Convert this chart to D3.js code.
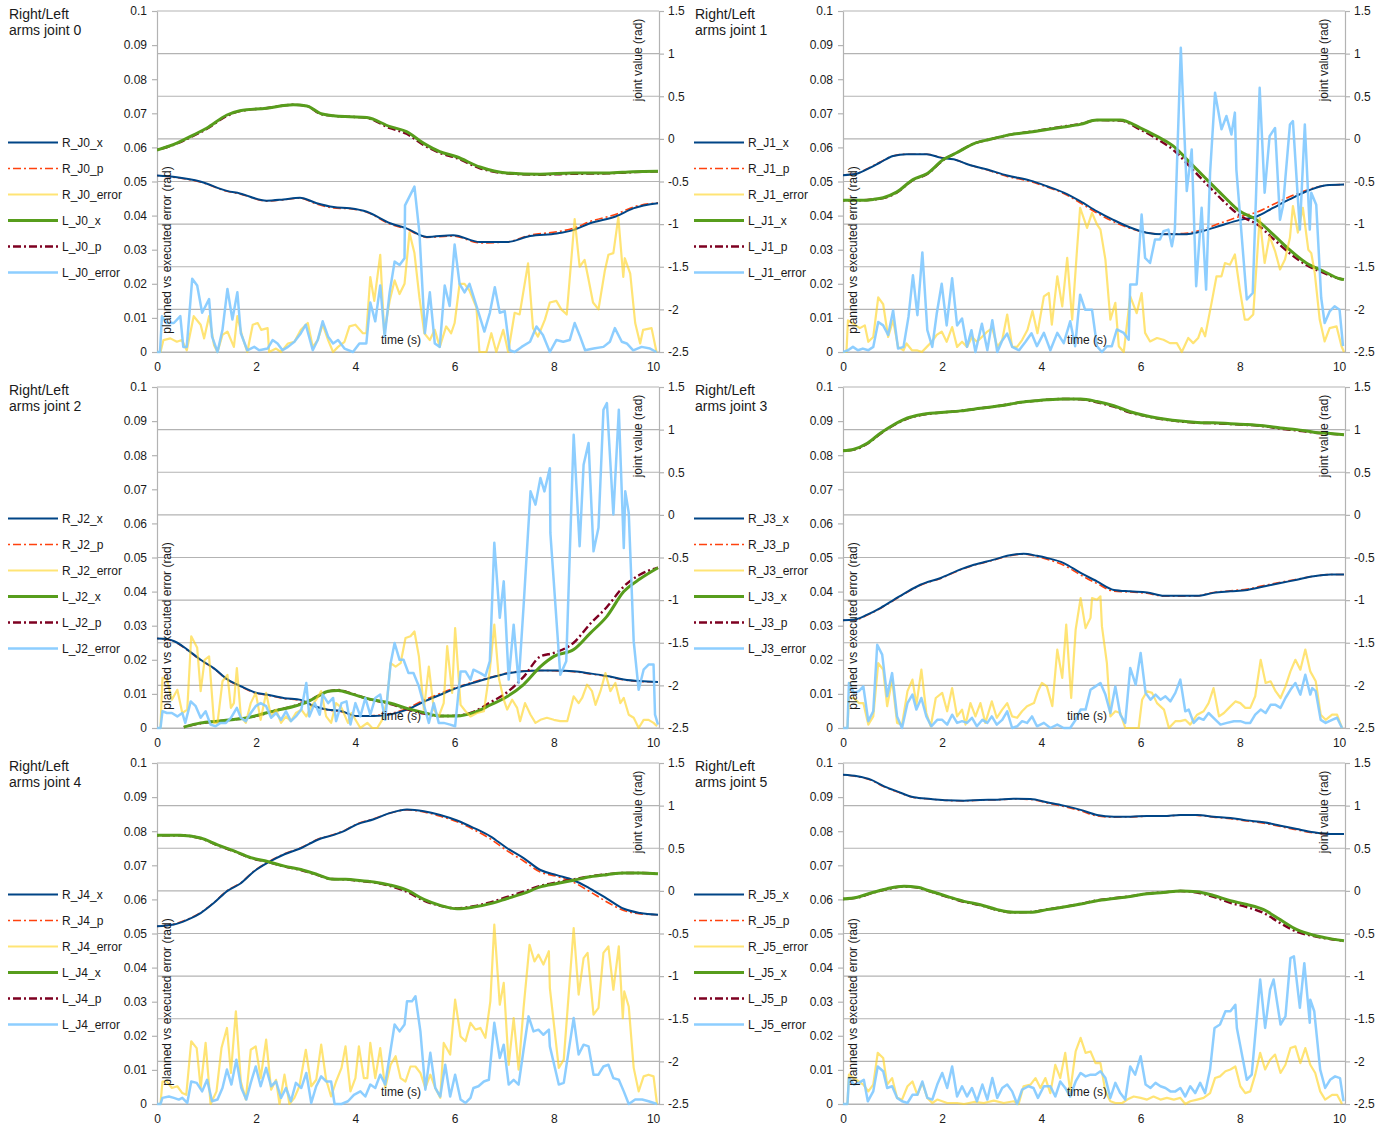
<!DOCTYPE html>
<html><head><meta charset="utf-8">
<script src="https://cdn.jsdelivr.net/npm/d3@7"></script>
<style>
body{margin:0;background:#fff}
text{font-family:"Liberation Sans",Arial,sans-serif;fill:#1a1a1a}
</style></head>
<body><svg id="c" width="1390" height="1125"></svg>
<script>
// ---------- axis ticks ----------
const errorTicks = [0,0.01,0.02,0.03,0.04,0.05,0.06,0.07,0.08,0.09,0.1];
const jointTicks = [1.5,1,0.5,0,-0.5,-1,-1.5,-2,-2.5];
const timeTicks = [0,2,4,6,8,10];

// ---------- joint 0 ----------
const R_J0_x = [[0,-0.43],[0.4,-0.45],[0.87,-0.50],[1.41,-0.61],[1.67,-0.64],[2.21,-0.725],[2.55,-0.71],[2.88,-0.69],[3.22,-0.755],[3.56,-0.80],[3.89,-0.815],[4.23,-0.855],[4.7,-0.99],[5.03,-1.05],[5.44,-1.15],[5.97,-1.13],[6.51,-1.21],[7.05,-1.21],[7.52,-1.14],[8.06,-1.11],[8.39,-1.07],[8.73,-0.99],[9.27,-0.905],[9.6,-0.815],[10.1,-0.755]];
const R_J0_p = [[0,-0.43],[0.4,-0.455],[0.87,-0.505],[1.41,-0.615],[1.67,-0.645],[2.21,-0.73],[2.55,-0.715],[2.88,-0.695],[3.22,-0.765],[3.56,-0.81],[3.89,-0.82],[4.23,-0.86],[4.7,-1.0],[5.03,-1.06],[5.44,-1.155],[5.97,-1.14],[6.51,-1.22],[7.05,-1.21],[7.52,-1.13],[8.06,-1.09],[8.39,-1.05],[8.73,-0.97],[9.27,-0.88],[9.6,-0.80],[10.1,-0.75]];
const R_J0_error = [[0,0],[0.07,0],[0.13,0.0035],[0.27,0.004],[0.4,0.003],[0.5,0.0035],[0.6,0.0005],[0.74,0.0105],[0.88,0.008],[0.95,0.004],[1.05,0.0105],[1.15,0.002],[1.22,0],[1.32,0.005],[1.42,0.006],[1.55,0.0015],[1.62,0.0105],[1.72,0.0045],[1.82,0],[1.93,0.008],[2.03,0.0085],[2.1,0.0065],[2.23,0.007],[2.26,0],[2.4,0.001],[2.5,0],[2.64,0.0025],[2.77,0.003],[2.9,0.0065],[3.04,0.0085],[3.14,0.0015],[3.24,0.0035],[3.34,0.008],[3.45,0.0035],[3.55,0],[3.65,0.0015],[3.78,0.003],[3.88,0.0075],[4.0,0.008],[4.15,0.0055],[4.22,0.0055],[4.3,0.022],[4.38,0.015],[4.5,0.0285],[4.58,0.0055],[4.69,0.015],[4.79,0.021],[4.89,0.017],[4.99,0.02],[5.09,0.035],[5.19,0.029],[5.29,0.016],[5.39,0.0055],[5.5,0.0035],[5.6,0.0065],[5.7,0.0015],[5.83,0.0075],[5.93,0.0055],[6.0,0.0085],[6.1,0.02],[6.2,0.02],[6.3,0.018],[6.44,0.013],[6.5,0],[6.64,0],[6.74,0.0055],[6.84,0],[6.98,0.0065],[7.08,0],[7.21,0.0115],[7.31,0.011],[7.48,0.026],[7.58,0.007],[7.68,0.0045],[7.82,0.0095],[7.92,0.0145],[8.05,0.015],[8.15,0.0125],[8.26,0.011],[8.42,0.039],[8.52,0.025],[8.62,0.027],[8.69,0.022],[8.79,0.0145],[8.9,0.0125],[9.03,0.024],[9.1,0.0285],[9.2,0.029],[9.3,0.0395],[9.4,0.022],[9.43,0.0275],[9.54,0.023],[9.64,0.0085],[9.74,0.0025],[9.8,0.0065],[9.97,0.007],[10.07,0]];
const L_J0_x = [[0,-0.13],[0.4,-0.05],[0.73,0.045],[1.0,0.124],[1.41,0.28],[1.67,0.33],[2.2,0.36],[2.75,0.40],[3.02,0.386],[3.29,0.30],[3.56,0.272],[3.89,0.26],[4.23,0.25],[4.7,0.143],[5.03,0.085],[5.37,-0.05],[5.7,-0.15],[6.04,-0.21],[6.51,-0.33],[7.05,-0.40],[7.72,-0.415],[8.39,-0.40],[9.07,-0.40],[9.6,-0.385],[10.1,-0.38]];
const L_J0_p = [[0,-0.13],[0.4,-0.055],[0.73,0.035],[1.0,0.115],[1.41,0.27],[1.67,0.325],[2.2,0.36],[2.75,0.40],[3.02,0.385],[3.29,0.295],[3.56,0.27],[3.89,0.26],[4.23,0.245],[4.7,0.125],[5.03,0.06],[5.37,-0.07],[5.7,-0.165],[6.04,-0.225],[6.51,-0.345],[7.05,-0.405],[7.72,-0.42],[8.39,-0.41],[9.07,-0.405],[9.6,-0.39],[10.1,-0.38]];
const L_J0_error = [[0,0],[0.06,0],[0.1,0.0105],[0.2,0.0085],[0.34,0.0085],[0.47,0.0105],[0.53,0.0015],[0.6,0.0015],[0.71,0.0215],[0.81,0.0195],[0.91,0.0115],[1.05,0.0155],[1.11,0.0045],[1.22,0],[1.32,0.0065],[1.42,0.0185],[1.52,0.0095],[1.62,0.0175],[1.69,0.0055],[1.82,0.0005],[1.96,0.0015],[2.06,0.0005],[2.23,0.001],[2.33,0.0035],[2.43,0.0025],[2.53,0.0005],[2.64,0.0015],[2.77,0.003],[2.9,0.0055],[3.0,0.008],[3.14,0.0005],[3.24,0.0035],[3.34,0.009],[3.45,0.0045],[3.55,0.0025],[3.65,0.0035],[3.78,0.001],[3.95,0],[4.08,0.0025],[4.22,0.0025],[4.3,0.0145],[4.4,0.009],[4.5,0.0195],[4.59,0.0045],[4.69,0.0175],[4.79,0.0265],[4.89,0.0255],[4.99,0.0275],[5.0,0.043],[5.19,0.0485],[5.29,0.035],[5.4,0.0055],[5.5,0.0175],[5.6,0.0025],[5.7,0.0015],[5.8,0.0195],[5.9,0.0135],[6.0,0.0315],[6.1,0.02],[6.2,0.0175],[6.3,0.02],[6.44,0.0135],[6.6,0.006],[6.71,0.0115],[6.81,0.019],[6.91,0.0115],[7.01,0.012],[7.11,0.0005],[7.21,0],[7.35,0.0015],[7.52,0.003],[7.65,0.0075],[7.78,0.005],[7.92,0],[8.05,0.0035],[8.19,0.003],[8.32,0.0035],[8.42,0.0085],[8.53,0.0045],[8.63,0.0005],[8.8,0.001],[9.0,0.0015],[9.13,0.003],[9.23,0.007],[9.37,0.003],[9.47,0.0025],[9.6,0.0005],[9.77,0.0015],[9.94,0.001],[10.07,0]];

// ---------- joint 1 ----------
const R_J1_x = [[0,-0.426],[0.27,-0.41],[0.54,-0.34],[0.74,-0.28],[1.01,-0.20],[1.28,-0.18],[1.69,-0.18],[1.96,-0.22],[2.23,-0.24],[2.57,-0.31],[2.91,-0.36],[3.31,-0.43],[3.78,-0.49],[4.11,-0.555],[4.45,-0.63],[4.78,-0.73],[5.12,-0.85],[5.45,-0.95],[5.79,-1.04],[6.12,-1.10],[6.46,-1.12],[6.86,-1.12],[7.26,-1.08],[7.6,-1.02],[8.0,-0.95],[8.34,-0.91],[8.67,-0.81],[9.0,-0.71],[9.41,-0.60],[9.74,-0.545],[10.1,-0.535]];
const R_J1_p = [[0,-0.426],[0.27,-0.405],[0.54,-0.335],[0.74,-0.275],[1.01,-0.20],[1.28,-0.18],[1.69,-0.18],[1.96,-0.215],[2.23,-0.24],[2.57,-0.31],[2.91,-0.365],[3.31,-0.44],[3.78,-0.50],[4.11,-0.565],[4.45,-0.64],[4.78,-0.75],[5.12,-0.87],[5.45,-0.97],[5.79,-1.05],[6.12,-1.10],[6.46,-1.115],[6.86,-1.11],[7.26,-1.06],[7.6,-0.99],[8.0,-0.91],[8.34,-0.86],[8.67,-0.77],[9.0,-0.68],[9.41,-0.59],[9.74,-0.545],[10.1,-0.535]];
const R_J1_error = [[0,0],[0.07,0],[0.1,0.0093],[0.2,0.0083],[0.34,0.007],[0.44,0.0078],[0.51,0.003],[0.61,0.0044],[0.71,0.016],[0.81,0.014],[0.91,0.0044],[1.01,0.0093],[1.11,0.0015],[1.22,0.0005],[1.28,0.0025],[1.39,0.0005],[1.49,0.0005],[1.59,0],[1.69,0.0015],[1.79,0.003],[1.89,0.005],[1.99,0.006],[2.09,0.003],[2.2,0.0073],[2.3,0.0015],[2.4,0.003],[2.5,0.0015],[2.6,0.0044],[2.7,0.003],[2.8,0.0044],[2.91,0.006],[3.01,0.007],[3.11,0.0015],[3.21,0.0035],[3.31,0.011],[3.41,0.0015],[3.51,0.0015],[3.61,0.0035],[3.72,0.0065],[3.82,0.012],[3.92,0.0055],[4.05,0.0163],[4.15,0.0173],[4.21,0.008],[4.32,0.0222],[4.42,0.0134],[4.52,0.0276],[4.62,0.0095],[4.72,0.0305],[4.78,0.0423],[4.92,0.0364],[5.02,0.0408],[5.12,0.0374],[5.19,0.0359],[5.29,0.0271],[5.39,0.0095],[5.49,0.0144],[5.56,0.0017],[5.66,0],[5.79,0.0163],[5.92,0.0114],[6.02,0.0173],[6.09,0.0056],[6.19,0.0031],[6.33,0.0041],[6.46,0.0036],[6.59,0.0026],[6.73,0.0026],[6.83,0],[6.96,0.0041],[7.06,0.0026],[7.16,0.0041],[7.23,0.007],[7.3,0.0046],[7.43,0.0144],[7.53,0.0222],[7.63,0.0222],[7.7,0.0261],[7.8,0.0256],[7.9,0.0286],[8.0,0.0183],[8.1,0.0095],[8.17,0.0095],[8.27,0.011],[8.4,0.0393],[8.5,0.0261],[8.6,0.034],[8.71,0.0296],[8.81,0.0242],[8.91,0.0271],[9.01,0.0335],[9.07,0.0428],[9.17,0.035],[9.27,0.0423],[9.38,0.03],[9.44,0.029],[9.51,0.0232],[9.61,0.0095],[9.71,0.0031],[9.81,0.007],[9.95,0.0075],[10.05,0.0017],[10.1,0]];
const L_J1_x = [[0,-0.72],[0.34,-0.72],[0.61,-0.71],[0.81,-0.69],[1.08,-0.625],[1.42,-0.475],[1.69,-0.41],[2.03,-0.24],[2.3,-0.16],[2.64,-0.055],[2.97,-0.005],[3.38,0.05],[3.78,0.08],[4.11,0.11],[4.45,0.14],[4.78,0.17],[5.12,0.22],[5.59,0.22],[5.99,0.13],[6.33,0.03],[6.66,-0.085],[7.0,-0.28],[7.33,-0.475],[7.67,-0.67],[8.0,-0.85],[8.34,-0.95],[8.67,-1.12],[9.0,-1.30],[9.34,-1.455],[9.68,-1.55],[10.01,-1.64],[10.1,-1.65]];
const L_J1_p = [[0,-0.72],[0.34,-0.72],[0.61,-0.71],[0.81,-0.695],[1.08,-0.63],[1.42,-0.48],[1.69,-0.415],[2.03,-0.245],[2.3,-0.16],[2.64,-0.055],[2.97,-0.005],[3.38,0.05],[3.78,0.085],[4.11,0.115],[4.45,0.145],[4.78,0.175],[5.12,0.22],[5.59,0.215],[5.99,0.11],[6.33,0.0],[6.66,-0.13],[7.0,-0.33],[7.33,-0.53],[7.67,-0.73],[8.0,-0.90],[8.34,-1.0],[8.67,-1.17],[9.0,-1.34],[9.34,-1.48],[9.68,-1.57],[10.01,-1.64],[10.1,-1.65]];
const L_J1_error = [[0,0],[0.1,0.0005],[0.2,0.0015],[0.3,0.0005],[0.4,0.001],[0.51,0.0005],[0.61,0.0015],[0.71,0.0088],[0.81,0.0078],[0.91,0.005],[1.01,0.0122],[1.11,0.001],[1.22,0.0015],[1.32,0.0103],[1.41,0.0225],[1.5,0.0108],[1.6,0.0292],[1.7,0.0064],[1.8,0.0015],[1.89,0.0113],[1.99,0.02],[2.09,0.0078],[2.2,0.0216],[2.3,0.0078],[2.4,0.0098],[2.5,0.0015],[2.59,0.0064],[2.67,0],[2.8,0.0083],[2.91,0.0005],[3.01,0.0093],[3.11,0],[3.21,0.0034],[3.31,0.0054],[3.41,0.0015],[3.55,0.0005],[3.68,0.003],[3.8,0.0055],[3.91,0.0017],[4.05,0.0056],[4.18,0.0005],[4.32,0.0056],[4.45,0.0026],[4.58,0.009],[4.68,0.0017],[4.78,0.0168],[4.88,0.0124],[5.02,0.0124],[5.12,0.0017],[5.22,0],[5.32,0.0017],[5.42,0.0017],[5.52,0.0066],[5.66,0.0056],[5.76,0.0036],[5.79,0.0198],[5.92,0.0198],[6.02,0.0403],[6.09,0.0276],[6.19,0.0261],[6.29,0.033],[6.39,0.033],[6.46,0.0354],[6.56,0.0359],[6.63,0.031],[6.69,0.0359],[6.81,0.0892],[6.93,0.0472],[7.03,0.0594],[7.12,0.0193],[7.23,0.0423],[7.32,0.0183],[7.4,0.0525],[7.5,0.076],[7.63,0.0653],[7.73,0.0692],[7.83,0.0638],[7.9,0.0702],[7.93,0.0535],[8.14,0.0154],[8.26,0.0173],[8.4,0.0775],[8.5,0.0467],[8.6,0.0633],[8.71,0.0657],[8.81,0.0388],[8.87,0.0428],[9.01,0.0667],[9.07,0.0677],[9.21,0.0359],[9.31,0.0667],[9.41,0.0359],[9.44,0.0467],[9.54,0.0432],[9.64,0.0159],[9.71,0.0085],[9.81,0.0119],[9.91,0.0134],[10.01,0.0124],[10.08,0.0017]];

// ---------- joint 2 ----------
const R_J2_x = [[0,-1.45],[0.2,-1.455],[0.41,-1.50],[0.61,-1.58],[0.88,-1.70],[1.15,-1.80],[1.42,-1.93],[1.69,-2.01],[1.96,-2.08],[2.23,-2.11],[2.57,-2.15],[2.9,-2.17],[3.11,-2.23],[3.45,-2.285],[3.7,-2.30],[4.03,-2.36],[4.37,-2.36],[4.71,-2.34],[5.04,-2.285],[5.38,-2.19],[5.71,-2.11],[6.05,-2.03],[6.38,-1.97],[6.72,-1.91],[7.06,-1.86],[7.39,-1.835],[7.73,-1.825],[8.06,-1.825],[8.4,-1.835],[8.73,-1.86],[9.07,-1.89],[9.41,-1.93],[9.74,-1.95],[10.1,-1.96]];
const R_J2_p = [[0,-1.45],[0.2,-1.46],[0.41,-1.505],[0.61,-1.585],[0.88,-1.705],[1.15,-1.805],[1.42,-1.935],[1.69,-2.015],[1.96,-2.085],[2.23,-2.115],[2.57,-2.155],[2.9,-2.18],[3.11,-2.235],[3.45,-2.29],[3.7,-2.305],[4.03,-2.36],[4.37,-2.355],[4.71,-2.33],[5.04,-2.27],[5.38,-2.175],[5.71,-2.095],[6.05,-2.02],[6.38,-1.96],[6.72,-1.905],[7.06,-1.855],[7.39,-1.83],[7.73,-1.825],[8.06,-1.83],[8.4,-1.84],[8.73,-1.865],[9.07,-1.895],[9.41,-1.935],[9.74,-1.955],[10.1,-1.96]];
const R_J2_error = [[0,0],[0.07,0],[0.11,0.0147],[0.2,0.0142],[0.3,0.0083],[0.41,0.0112],[0.51,0.0044],[0.61,0.0054],[0.69,0.0269],[0.81,0.0235],[0.88,0.0108],[0.96,0.02],[1.05,0.021],[1.15,0.0015],[1.22,0.0015],[1.32,0.0137],[1.42,0.0156],[1.49,0.0059],[1.55,0.0073],[1.61,0.0176],[1.69,0.0034],[1.79,0.0015],[1.89,0.0073],[1.99,0.0103],[2.09,0.0024],[2.2,0.0103],[2.3,0.0034],[2.4,0.0054],[2.5,0.0015],[2.6,0.0034],[2.7,0.002],[2.8,0.0044],[2.91,0.0054],[3.01,0.0034],[3.11,0.0064],[3.21,0.0083],[3.31,0.0108],[3.41,0.0034],[3.51,0.0015],[3.61,0.0073],[3.72,0.0059],[3.85,0.0015],[3.92,0.0044],[4.1,0],[4.24,0.0015],[4.34,0],[4.44,0],[4.54,0.0024],[4.64,0.0083],[4.71,0.019],[4.81,0.018],[4.91,0.019],[5.01,0.0264],[5.11,0.0269],[5.19,0.0283],[5.28,0.021],[5.38,0.0054],[5.48,0.018],[5.58,0.0054],[5.68,0.0034],[5.78,0.0073],[5.85,0.024],[5.95,0.0103],[6.01,0.0293],[6.12,0.0068],[6.22,0.0049],[6.32,0.0034],[6.45,0.0044],[6.59,0.0049],[6.71,0.0171],[6.8,0.0303],[6.89,0.0147],[6.99,0.0083],[7.06,0.0054],[7.16,0.0083],[7.26,0.0059],[7.32,0.002],[7.42,0.0073],[7.53,0.0039],[7.63,0.0015],[7.73,0.0024],[7.86,0.003],[8.0,0.0024],[8.13,0.002],[8.27,0.002],[8.4,0.0093],[8.5,0.0073],[8.57,0.0088],[8.67,0.0127],[8.77,0.0108],[8.84,0.0068],[8.94,0.0108],[9.04,0.0161],[9.14,0.0108],[9.24,0.0132],[9.34,0.0073],[9.41,0.0088],[9.51,0.0039],[9.61,0.003],[9.71,0],[9.81,0.0024],[9.91,0.0024],[10.01,0.0015],[10.08,0.0005]];
const L_J2_x = [[0.54,-2.49],[0.88,-2.44],[1.22,-2.42],[1.55,-2.40],[1.82,-2.38],[2.09,-2.34],[2.43,-2.29],[2.77,-2.245],[3.04,-2.19],[3.24,-2.13],[3.45,-2.07],[3.65,-2.06],[3.92,-2.10],[4.2,-2.15],[4.71,-2.21],[5.04,-2.27],[5.38,-2.32],[5.71,-2.36],[6.05,-2.36],[6.38,-2.32],[6.72,-2.23],[7.06,-2.13],[7.39,-1.99],[7.73,-1.78],[8.0,-1.66],[8.4,-1.58],[8.73,-1.39],[9.07,-1.19],[9.41,-0.90],[9.74,-0.75],[10.1,-0.62]];
const L_J2_p = [[0.54,-2.49],[0.88,-2.445],[1.22,-2.42],[1.55,-2.40],[1.82,-2.38],[2.09,-2.345],[2.43,-2.29],[2.77,-2.24],[3.04,-2.185],[3.24,-2.125],[3.45,-2.07],[3.65,-2.055],[3.92,-2.095],[4.2,-2.15],[4.71,-2.22],[5.04,-2.28],[5.38,-2.33],[5.71,-2.36],[6.05,-2.355],[6.38,-2.31],[6.72,-2.20],[7.06,-2.08],[7.39,-1.90],[7.73,-1.66],[8.0,-1.62],[8.4,-1.50],[8.73,-1.28],[9.07,-1.08],[9.41,-0.84],[9.74,-0.70],[10.1,-0.62]];
const L_J2_error = [[0,0],[0.07,0],[0.11,0.0049],[0.2,0.0044],[0.3,0.0044],[0.41,0.0034],[0.51,0.0044],[0.57,0.0015],[0.68,0.0078],[0.78,0.0064],[0.88,0.003],[0.98,0.0049],[1.08,0.001],[1.18,0.0005],[1.28,0.0015],[1.39,0.0015],[1.49,0.003],[1.61,0.0059],[1.69,0.003],[1.79,0.002],[1.89,0.0044],[1.99,0.0064],[2.09,0.0073],[2.2,0.0064],[2.3,0.003],[2.4,0.0044],[2.5,0.0024],[2.6,0.0049],[2.7,0.002],[2.8,0.0034],[2.91,0.0054],[3.01,0.0132],[3.07,0.0034],[3.18,0.0073],[3.28,0.0039],[3.34,0.0098],[3.45,0.0073],[3.55,0.0088],[3.61,0.002],[3.72,0.0073],[3.82,0.0078],[3.9,0.001],[4.0,0.0073],[4.1,0.0034],[4.2,0.0088],[4.3,0.0039],[4.4,0.0088],[4.5,0.0098],[4.6,0.0024],[4.71,0.019],[4.79,0.0249],[4.89,0.02],[4.97,0.02],[5.07,0.0161],[5.17,0.0161],[5.28,0.0122],[5.38,0.0068],[5.48,0.0015],[5.58,0.0073],[5.68,0.0015],[5.78,0.0015],[5.91,0.001],[6.01,0.0005],[6.12,0.0166],[6.22,0.0166],[6.32,0.0142],[6.38,0.0171],[6.52,0.0161],[6.62,0.0152],[6.71,0.0196],[6.8,0.0543],[6.91,0.0323],[6.99,0.043],[7.09,0.0142],[7.19,0.0303],[7.29,0.0132],[7.39,0.0357],[7.53,0.0694],[7.63,0.0655],[7.73,0.0733],[7.81,0.0694],[7.92,0.0762],[7.93,0.0572],[8.13,0.0156],[8.25,0.0196],[8.4,0.086],[8.52,0.0533],[8.6,0.0772],[8.7,0.0836],[8.8,0.0518],[8.9,0.0587],[9.0,0.0933],[9.07,0.0953],[9.2,0.0626],[9.31,0.0933],[9.41,0.0528],[9.44,0.0694],[9.51,0.0631],[9.61,0.0254],[9.71,0.0112],[9.81,0.0171],[9.91,0.0186],[10.01,0.0186],[10.04,0.0039],[10.1,0.001]];

// ---------- joint 3 ----------
const R_J3_x = [[0,-1.237],[0.22,-1.23],[0.49,-1.17],[0.76,-1.09],[1.03,-0.995],[1.3,-0.90],[1.56,-0.82],[1.97,-0.74],[2.37,-0.64],[2.64,-0.585],[3.04,-0.525],[3.31,-0.48],[3.64,-0.455],[3.91,-0.48],[4.11,-0.505],[4.45,-0.565],[4.79,-0.68],[5.12,-0.78],[5.46,-0.88],[5.79,-0.897],[6.13,-0.91],[6.47,-0.95],[6.8,-0.95],[7.14,-0.95],[7.47,-0.915],[7.81,-0.897],[8.15,-0.88],[8.48,-0.84],[8.82,-0.80],[9.15,-0.76],[9.49,-0.72],[9.83,-0.70],[10.1,-0.70]];
const R_J3_p = [[0,-1.237],[0.22,-1.235],[0.49,-1.175],[0.76,-1.095],[1.03,-1.0],[1.3,-0.905],[1.56,-0.825],[1.97,-0.745],[2.37,-0.645],[2.64,-0.59],[3.04,-0.53],[3.31,-0.485],[3.64,-0.46],[3.91,-0.49],[4.11,-0.52],[4.45,-0.59],[4.79,-0.705],[5.12,-0.805],[5.46,-0.895],[5.79,-0.905],[6.13,-0.92],[6.47,-0.955],[6.8,-0.955],[7.14,-0.95],[7.47,-0.91],[7.81,-0.89],[8.15,-0.87],[8.48,-0.83],[8.82,-0.79],[9.15,-0.755],[9.49,-0.72],[9.83,-0.70],[10.1,-0.70]];
const R_J3_error = [[0,0],[0.09,0],[0.12,0.0088],[0.22,0.0088],[0.32,0.0073],[0.41,0.0073],[0.51,0.001],[0.61,0.0034],[0.71,0.019],[0.81,0.0171],[0.89,0.0064],[0.99,0.0142],[1.09,0.0015],[1.19,0.001],[1.3,0.0108],[1.4,0.0142],[1.48,0.0068],[1.58,0.0171],[1.68,0.0044],[1.77,0.0005],[1.87,0.0088],[2.0,0.0103],[2.1,0.0049],[2.2,0.0117],[2.3,0.0034],[2.4,0.0054],[2.47,0.001],[2.57,0.0073],[2.67,0.0034],[2.77,0.0073],[2.87,0.0015],[3.0,0.0078],[3.1,0.003],[3.21,0.0054],[3.31,0.0073],[3.41,0.0034],[3.51,0.003],[3.61,0.0049],[3.71,0.0064],[3.85,0.0073],[3.93,0.0108],[4.01,0.0132],[4.11,0.0122],[4.22,0.0064],[4.32,0.023],[4.42,0.0147],[4.5,0.0303],[4.6,0.0088],[4.69,0.0288],[4.79,0.0381],[4.89,0.0293],[4.99,0.0323],[5.02,0.0381],[5.12,0.0376],[5.19,0.0386],[5.22,0.0298],[5.32,0.019],[5.39,0.0034],[5.49,0.0049],[5.59,0.0044],[5.69,0],[5.83,0],[5.96,0],[6.03,0.0083],[6.13,0.0108],[6.23,0.0103],[6.33,0.0073],[6.47,0.0054],[6.57,0],[6.7,0.002],[6.8,0.002],[6.9,0.0024],[7.0,0.001],[7.14,0.0039],[7.27,0.0049],[7.37,0.0073],[7.47,0.0117],[7.58,0.0034],[7.68,0.0044],[7.78,0.0059],[7.91,0.0078],[8.01,0.0073],[8.11,0.0059],[8.21,0.0059],[8.31,0.0093],[8.42,0.02],[8.52,0.0132],[8.62,0.0137],[8.72,0.0108],[8.82,0.0088],[8.92,0.0122],[9.02,0.0166],[9.12,0.02],[9.22,0.0171],[9.32,0.023],[9.42,0.0166],[9.53,0.0137],[9.63,0.0039],[9.73,0.0024],[9.86,0.0039],[9.96,0.0039],[10.06,0]];
const L_J3_x = [[0,0.753],[0.22,0.77],[0.49,0.84],[0.76,0.96],[1.03,1.06],[1.3,1.136],[1.56,1.175],[1.97,1.20],[2.37,1.22],[2.77,1.25],[3.17,1.28],[3.58,1.32],[3.91,1.34],[4.11,1.35],[4.45,1.36],[4.79,1.36],[5.12,1.33],[5.46,1.28],[5.79,1.21],[6.13,1.16],[6.47,1.125],[6.8,1.10],[7.14,1.085],[7.47,1.08],[7.81,1.07],[8.15,1.06],[8.48,1.045],[8.82,1.02],[9.15,1.0],[9.49,0.97],[9.83,0.955],[10.1,0.94]];
const L_J3_p = [[0,0.753],[0.22,0.765],[0.49,0.835],[0.76,0.955],[1.03,1.055],[1.3,1.13],[1.56,1.17],[1.97,1.20],[2.37,1.22],[2.77,1.25],[3.17,1.28],[3.58,1.32],[3.91,1.34],[4.11,1.35],[4.45,1.36],[4.79,1.355],[5.12,1.32],[5.46,1.27],[5.79,1.20],[6.13,1.155],[6.47,1.12],[6.8,1.095],[7.14,1.08],[7.47,1.075],[7.81,1.065],[8.15,1.055],[8.48,1.04],[8.82,1.01],[9.15,0.99],[9.49,0.965],[9.83,0.95],[10.1,0.94]];
const L_J3_error = [[0,0],[0.09,0],[0.12,0.0132],[0.22,0.0103],[0.32,0.0108],[0.41,0.0122],[0.51,0.002],[0.61,0.0049],[0.69,0.0244],[0.79,0.0215],[0.89,0.0093],[0.99,0.0161],[1.09,0.0034],[1.19,0],[1.3,0.0073],[1.4,0.0098],[1.48,0.0054],[1.58,0.0088],[1.68,0.0034],[1.78,0.0005],[1.9,0.0024],[2.0,0.0024],[2.1,0.001],[2.2,0.0039],[2.3,0.0015],[2.4,0.002],[2.5,0.0015],[2.6,0.003],[2.7,0.0005],[2.81,0.0024],[2.91,0.0015],[3.0,0.0034],[3.1,0.001],[3.21,0.0024],[3.31,0.0049],[3.41,0],[3.51,0.0005],[3.61,0.002],[3.71,0.0015],[3.81,0.0034],[3.91,0.0005],[4.05,0.0015],[4.18,0],[4.32,0.001],[4.45,0],[4.58,0],[4.69,0.0024],[4.79,0.0054],[4.89,0.0054],[4.99,0.0112],[5.09,0.0122],[5.19,0.0132],[5.29,0.0098],[5.39,0.0044],[5.49,0.0122],[5.59,0.0039],[5.69,0.0015],[5.79,0.0176],[5.9,0.0127],[6.0,0.022],[6.1,0.0103],[6.2,0.0083],[6.3,0.0098],[6.4,0.0083],[6.5,0.0093],[6.6,0.0078],[6.7,0.0103],[6.8,0.0142],[6.9,0.0049],[6.97,0.0054],[7.07,0.0015],[7.17,0.003],[7.27,0.0024],[7.37,0.0044],[7.51,0.0024],[7.61,0.001],[7.74,0.0015],[7.88,0.002],[8.01,0.002],[8.11,0.0015],[8.21,0.0015],[8.31,0.0039],[8.42,0.0054],[8.52,0.0044],[8.62,0.0068],[8.72,0.0068],[8.82,0.0059],[8.92,0.0088],[9.02,0.0112],[9.12,0.0132],[9.22,0.0098],[9.32,0.0156],[9.42,0.0098],[9.46,0.0117],[9.53,0.0108],[9.63,0.0024],[9.73,0.0015],[9.86,0.0024],[9.96,0.003],[10.06,0]];

// ---------- joint 4 ----------
const R_J4_x = [[0,-0.416],[0.34,-0.395],[0.61,-0.34],[0.88,-0.26],[1.15,-0.14],[1.42,0.0],[1.69,0.09],[1.96,0.23],[2.23,0.33],[2.57,0.43],[2.9,0.50],[3.24,0.60],[3.58,0.66],[3.8,0.71],[4.03,0.78],[4.37,0.84],[4.71,0.915],[5.04,0.955],[5.38,0.935],[5.71,0.89],[6.05,0.825],[6.38,0.74],[6.72,0.64],[7.06,0.50],[7.39,0.385],[7.73,0.245],[8.06,0.185],[8.4,0.125],[8.73,0.027],[9.07,-0.09],[9.41,-0.21],[9.74,-0.26],[10.1,-0.28]];
const R_J4_p = [[0,-0.416],[0.34,-0.39],[0.61,-0.335],[0.88,-0.255],[1.15,-0.135],[1.42,0.005],[1.69,0.095],[1.96,0.235],[2.23,0.335],[2.57,0.435],[2.9,0.505],[3.24,0.605],[3.58,0.665],[3.8,0.715],[4.03,0.785],[4.37,0.845],[4.71,0.915],[5.04,0.95],[5.38,0.925],[5.71,0.875],[6.05,0.81],[6.38,0.72],[6.72,0.61],[7.06,0.47],[7.39,0.35],[7.73,0.22],[8.06,0.17],[8.4,0.10],[8.73,-0.01],[9.07,-0.13],[9.41,-0.23],[9.74,-0.27],[10.1,-0.28]];
const R_J4_error = [[0,0],[0.07,0],[0.11,0.0066],[0.2,0.0066],[0.3,0.0047],[0.41,0.0052],[0.51,0.0032],[0.59,0.0027],[0.69,0.0184],[0.8,0.0164],[0.88,0.0047],[0.98,0.0179],[1.08,0],[1.2,0.0037],[1.3,0.0164],[1.41,0.0223],[1.49,0.0091],[1.59,0.0272],[1.69,0.0066],[1.79,0.0013],[1.89,0.0159],[1.99,0.0169],[2.09,0.0076],[2.2,0.0189],[2.3,0.0042],[2.4,0.0071],[2.47,0],[2.57,0.0086],[2.67,0],[2.77,0.0018],[2.87,0.0052],[3.0,0.0159],[3.11,0.0052],[3.21,0.0071],[3.31,0.0174],[3.41,0.0071],[3.51,0.0022],[3.61,0.0066],[3.72,0.0106],[3.8,0.0169],[3.9,0.0037],[4.0,0.0076],[4.07,0.0169],[4.17,0.0076],[4.24,0.0076],[4.3,0.0179],[4.4,0.0076],[4.5,0.0164],[4.6,0.0047],[4.71,0.0115],[4.81,0.014],[4.91,0.0076],[5.01,0.0066],[5.11,0.011],[5.21,0.011],[5.31,0.0091],[5.41,0.0047],[5.51,0.0086],[5.61,0.0047],[5.71,0.0018],[5.78,0.0179],[5.91,0.0145],[6.01,0.0306],[6.12,0.0198],[6.22,0.0184],[6.32,0.0238],[6.42,0.0218],[6.52,0.0223],[6.62,0.0194],[6.72,0.0301],[6.8,0.0526],[6.91,0.0291],[6.99,0.0355],[7.09,0.0115],[7.19,0.0252],[7.29,0.0101],[7.39,0.0282],[7.51,0.0467],[7.61,0.0418],[7.69,0.0438],[7.79,0.0409],[7.9,0.0448],[7.92,0.034],[8.1,0.0106],[8.2,0.013],[8.4,0.0516],[8.5,0.0321],[8.6,0.0428],[8.68,0.0443],[8.8,0.0262],[8.9,0.0282],[9.0,0.0443],[9.1,0.0462],[9.2,0.0335],[9.31,0.0462],[9.39,0.0252],[9.42,0.033],[9.51,0.0286],[9.61,0.0106],[9.71,0.0037],[9.81,0.0081],[9.91,0.0086],[10.01,0.0081],[10.08,0]];
const L_J4_x = [[0,0.652],[0.47,0.652],[0.88,0.62],[1.22,0.54],[1.55,0.47],[1.89,0.39],[2.23,0.345],[2.57,0.29],[2.9,0.25],[3.24,0.19],[3.51,0.14],[3.8,0.135],[4.03,0.125],[4.37,0.105],[4.71,0.067],[5.04,0.008],[5.38,-0.10],[5.71,-0.17],[6.05,-0.21],[6.38,-0.19],[6.72,-0.15],[7.06,-0.09],[7.39,-0.03],[7.73,0.047],[8.06,0.086],[8.4,0.125],[8.73,0.165],[9.07,0.19],[9.41,0.21],[9.74,0.21],[10.1,0.20]];
const L_J4_p = [[0,0.652],[0.47,0.652],[0.88,0.615],[1.22,0.535],[1.55,0.465],[1.89,0.385],[2.23,0.34],[2.57,0.285],[2.9,0.245],[3.24,0.185],[3.51,0.14],[3.8,0.135],[4.03,0.12],[4.37,0.10],[4.71,0.055],[5.04,-0.01],[5.38,-0.115],[5.71,-0.175],[6.05,-0.205],[6.38,-0.18],[6.72,-0.135],[7.06,-0.07],[7.39,-0.01],[7.73,0.06],[8.06,0.10],[8.4,0.135],[8.73,0.17],[9.07,0.195],[9.41,0.21],[9.74,0.21],[10.1,0.20]];
const L_J4_error = [[0,0],[0.07,0],[0.11,0.0018],[0.24,0.0022],[0.34,0.0018],[0.44,0.0013],[0.51,0.0018],[0.61,0.0003],[0.69,0.0066],[0.8,0.0062],[0.91,0.0037],[1.01,0.0071],[1.11,0.0008],[1.22,0.0013],[1.32,0.0047],[1.41,0.0101],[1.5,0.0057],[1.6,0.013],[1.7,0.0047],[1.8,0.0013],[1.89,0.0062],[1.99,0.011],[2.09,0.0052],[2.2,0.0106],[2.3,0.0052],[2.4,0.0066],[2.5,0.0018],[2.6,0.0047],[2.7,0.0008],[2.8,0.0062],[2.91,0.0047],[3.01,0.0091],[3.11,0.0003],[3.21,0.0052],[3.31,0.0081],[3.41,0.0066],[3.51,0.0066],[3.58,0],[3.72,0],[3.85,0.0008],[3.97,0.0027],[4.1,0.0037],[4.2,0.0022],[4.3,0.0057],[4.4,0.0047],[4.5,0.0086],[4.6,0.0057],[4.71,0.0159],[4.79,0.0233],[4.89,0.0213],[4.99,0.0233],[5.04,0.0301],[5.14,0.0301],[5.21,0.0316],[5.31,0.0213],[5.41,0.0042],[5.51,0.015],[5.61,0.0047],[5.71,0.0022],[5.81,0.0115],[5.91,0.0022],[6.01,0.0086],[6.12,0.0013],[6.22,0.0003],[6.32,0.0018],[6.38,0.0047],[6.48,0.0052],[6.59,0.0066],[6.69,0.0071],[6.8,0.0238],[6.91,0.0135],[6.99,0.0174],[7.09,0.0057],[7.19,0.0071],[7.29,0.0057],[7.39,0.0159],[7.49,0.0257],[7.59,0.0213],[7.69,0.0218],[7.79,0.0203],[7.9,0.0218],[7.92,0.0169],[8.1,0.0057],[8.2,0.0062],[8.4,0.0252],[8.5,0.0145],[8.6,0.0174],[8.7,0.0169],[8.8,0.0086],[8.9,0.0086],[9.0,0.011],[9.1,0.0115],[9.2,0.0076],[9.31,0.0071],[9.41,0.0037],[9.51,0],[9.64,0.0013],[9.78,0.0013],[9.91,0.0008],[10.08,0]];

// ---------- joint 5 ----------
const R_J5_x = [[0,1.363],[0.29,1.345],[0.56,1.305],[0.83,1.226],[1.09,1.167],[1.43,1.097],[1.77,1.078],[2.1,1.062],[2.44,1.058],[2.77,1.066],[3.11,1.07],[3.44,1.08],[3.78,1.078],[4.11,1.04],[4.45,1.0],[4.79,0.95],[5.12,0.89],[5.46,0.87],[5.79,0.87],[6.13,0.878],[6.46,0.878],[6.8,0.89],[7.14,0.89],[7.47,0.87],[7.81,0.855],[8.14,0.827],[8.48,0.804],[8.82,0.765],[9.15,0.725],[9.49,0.687],[9.82,0.667],[10.1,0.667]];
const R_J5_p = [[0,1.363],[0.29,1.34],[0.56,1.30],[0.83,1.22],[1.09,1.162],[1.43,1.095],[1.77,1.076],[2.1,1.06],[2.44,1.056],[2.77,1.064],[3.11,1.068],[3.44,1.078],[3.78,1.072],[4.11,1.032],[4.45,0.99],[4.79,0.94],[5.12,0.88],[5.46,0.865],[5.79,0.868],[6.13,0.875],[6.46,0.876],[6.8,0.888],[7.14,0.886],[7.47,0.865],[7.81,0.848],[8.14,0.82],[8.48,0.795],[8.82,0.755],[9.15,0.715],[9.49,0.68],[9.82,0.665],[10.1,0.667]];
const R_J5_error = [[0,0],[0.09,0],[0.12,0.0086],[0.22,0.0076],[0.32,0.0066],[0.41,0.0057],[0.51,0.0037],[0.61,0.0057],[0.7,0.015],[0.81,0.0135],[0.89,0.0057],[0.99,0.0076],[1.09,0.0018],[1.19,0.0013],[1.3,0.0052],[1.4,0.0066],[1.5,0.0027],[1.6,0.0062],[1.7,0.0018],[1.8,0.0003],[1.9,0.0013],[2.0,0.0008],[2.1,0.0003],[2.3,0.0003],[2.44,0],[2.64,0.0006],[2.84,0.0003],[3.04,0.001],[3.24,0.0003],[3.44,0.0008],[3.54,0],[3.64,0.0052],[3.78,0.0057],[3.88,0.0076],[3.98,0.0047],[4.08,0.0076],[4.18,0.0032],[4.28,0.0115],[4.38,0.0076],[4.48,0.015],[4.58,0.0037],[4.69,0.0154],[4.79,0.0194],[4.89,0.015],[4.99,0.0154],[5.09,0.012],[5.19,0.012],[5.29,0.0037],[5.39,0.0008],[5.49,0.0003],[5.63,0.0003],[5.73,0.0013],[5.86,0.0022],[6.0,0.0018],[6.13,0.0013],[6.26,0.0022],[6.4,0.0013],[6.53,0.0018],[6.67,0.0013],[6.8,0.0018],[6.9,0],[7.0,0.0008],[7.14,0.0013],[7.27,0.0018],[7.4,0.0032],[7.5,0.0076],[7.6,0.0081],[7.71,0.0096],[7.81,0.0101],[7.91,0.011],[8.01,0.0052],[8.11,0.0032],[8.21,0.0037],[8.31,0.0086],[8.41,0.015],[8.51,0.0101],[8.61,0.013],[8.71,0.0145],[8.82,0.0091],[8.92,0.0115],[9.02,0.0164],[9.12,0.0169],[9.22,0.012],[9.32,0.0164],[9.42,0.0115],[9.52,0.0091],[9.62,0.0037],[9.72,0.0013],[9.86,0.0027],[9.96,0.0027],[10.06,0]];
const L_J5_x = [[0,-0.095],[0.29,-0.075],[0.56,-0.025],[0.89,0.026],[1.23,0.053],[1.5,0.042],[1.77,-0.005],[2.1,-0.064],[2.44,-0.123],[2.77,-0.162],[3.11,-0.22],[3.44,-0.25],[3.78,-0.25],[4.11,-0.22],[4.45,-0.19],[4.79,-0.155],[5.12,-0.115],[5.46,-0.09],[5.79,-0.065],[6.13,-0.035],[6.46,-0.02],[6.8,0.0],[7.14,-0.01],[7.47,-0.055],[7.81,-0.115],[8.14,-0.16],[8.48,-0.22],[8.82,-0.34],[9.15,-0.455],[9.49,-0.52],[9.82,-0.56],[10.1,-0.585]];
const L_J5_p = [[0,-0.095],[0.29,-0.08],[0.56,-0.03],[0.89,0.02],[1.23,0.05],[1.5,0.038],[1.77,-0.01],[2.1,-0.07],[2.44,-0.128],[2.77,-0.168],[3.11,-0.225],[3.44,-0.252],[3.78,-0.248],[4.11,-0.218],[4.45,-0.188],[4.79,-0.152],[5.12,-0.112],[5.46,-0.087],[5.79,-0.062],[6.13,-0.032],[6.46,-0.018],[6.8,-0.002],[7.14,-0.02],[7.47,-0.07],[7.81,-0.14],[8.14,-0.19],[8.48,-0.26],[8.82,-0.38],[9.15,-0.48],[9.49,-0.53],[9.82,-0.565],[10.1,-0.585]];
const L_J5_error = [[0,0],[0.09,0],[0.12,0.0076],[0.22,0.0057],[0.32,0.0062],[0.42,0.0071],[0.5,0.0008],[0.61,0.0037],[0.7,0.011],[0.81,0.0096],[0.89,0.0047],[0.99,0.0052],[1.09,0.0018],[1.19,0.0008],[1.3,0.0003],[1.4,0.0027],[1.5,0.0027],[1.6,0.0066],[1.7,0.0018],[1.8,0.0013],[1.9,0.0057],[2.0,0.0091],[2.1,0.0047],[2.2,0.011],[2.3,0.0022],[2.4,0.0052],[2.5,0.0022],[2.6,0.0047],[2.7,0.0008],[2.81,0.0057],[2.91,0.0013],[3.01,0.0076],[3.11,0.0018],[3.21,0.0047],[3.31,0.0057],[3.41,0.0037],[3.51,0],[3.61,0.0042],[3.74,0.0052],[3.84,0.0047],[3.93,0.0018],[4.05,0.0052],[4.18,0.0052],[4.28,0.0022],[4.38,0.0066],[4.48,0.0047],[4.58,0.0022],[4.69,0.0066],[4.79,0.0091],[4.89,0.0081],[4.99,0.0086],[5.09,0.0086],[5.19,0.0096],[5.29,0.0076],[5.39,0.0018],[5.49,0.0062],[5.59,0.0032],[5.69,0.0013],[5.79,0.011],[5.89,0.0086],[6.0,0.014],[6.1,0.0057],[6.2,0.0047],[6.3,0.0062],[6.4,0.0052],[6.5,0.0047],[6.6,0.0037],[6.7,0.0037],[6.8,0.0047],[6.9,0.0022],[7.0,0.0052],[7.1,0.0032],[7.2,0.0062],[7.3,0.0032],[7.4,0.0101],[7.49,0.0223],[7.6,0.0233],[7.71,0.0272],[7.81,0.0272],[7.91,0.0291],[7.94,0.0223],[8.14,0.0071],[8.24,0.0086],[8.41,0.0365],[8.51,0.0223],[8.61,0.0335],[8.68,0.0365],[8.82,0.0233],[8.92,0.0257],[9.02,0.0428],[9.09,0.0433],[9.21,0.0282],[9.3,0.0413],[9.41,0.0238],[9.42,0.0306],[9.5,0.0272],[9.62,0.0101],[9.72,0.0047],[9.82,0.0071],[9.92,0.0081],[10.02,0.0076],[10.09,0.0008]];

// ---------- assembly ----------
const panels = [
  {joint:0, series:[R_J0_x,R_J0_p,R_J0_error,L_J0_x,L_J0_p,L_J0_error]},
  {joint:1, series:[R_J1_x,R_J1_p,R_J1_error,L_J1_x,L_J1_p,L_J1_error]},
  {joint:2, series:[R_J2_x,R_J2_p,R_J2_error,L_J2_x,L_J2_p,L_J2_error]},
  {joint:3, series:[R_J3_x,R_J3_p,R_J3_error,L_J3_x,L_J3_p,L_J3_error]},
  {joint:4, series:[R_J4_x,R_J4_p,R_J4_error,L_J4_x,L_J4_p,L_J4_error]},
  {joint:5, series:[R_J5_x,R_J5_p,R_J5_error,L_J5_x,L_J5_p,L_J5_error]}
];

const styles = [
  {side:"R", kind:"x",     color:"#004586", w:2,   dash:null,      op:1,    axis:"r"},
  {side:"R", kind:"p",     color:"#ff420e", w:1.6, dash:"2,3,8,3", op:1,    axis:"r"},
  {side:"R", kind:"error", color:"#ffd320", w:2.2, dash:null,      op:0.62, axis:"l"},
  {side:"L", kind:"x",     color:"#579d1c", w:3,   dash:null,      op:1,    axis:"r"},
  {side:"L", kind:"p",     color:"#7e0021", w:2.4, dash:"2,3,8,3", op:1,    axis:"r"},
  {side:"L", kind:"error", color:"#83caff", w:2.5, dash:null,      op:0.92, axis:"l"}
];
// drawing order: planned under executed, errors on top
const drawOrder = [1, 0, 4, 3, 2, 5];

const W = 502, H = 341;
const layout = [[157,11,9],[843,11,695],[157,387,9],[843,387,695],[157,763,9],[843,763,695]];
const svg = d3.select("#c");
const grid = "#b3b3b3";
const fmtL = d => d === 0 ? "0" : String(+d.toFixed(2));
const fmtR = d => String(d);

panels.forEach((pn, i) => {
  const [x0, y0, tx] = layout[i];
  const g = svg.append("g");
  const xS = d3.scaleLinear().domain([0, 10.12]).range([x0, x0 + W]);
  const yL = d3.scaleLinear().domain([0, 0.1]).range([y0 + H, y0]);
  const yR = d3.scaleLinear().domain([-2.5, 1.5]).range([y0 + H, y0]);

  g.append("g").selectAll("line").data(jointTicks).join("line")
    .attr("x1", x0).attr("x2", x0 + W)
    .attr("y1", d => yR(d)).attr("y2", d => yR(d))
    .attr("stroke", grid).attr("stroke-width", 1.2);

  const aL = g.append("g").attr("transform", `translate(${x0},0)`)
    .call(d3.axisLeft(yL).tickValues(errorTicks).tickFormat(fmtL).tickSize(5).tickSizeOuter(0).tickPadding(5));
  const aR = g.append("g").attr("transform", `translate(${x0 + W},0)`)
    .call(d3.axisRight(yR).tickValues(jointTicks).tickFormat(fmtR).tickSize(5).tickSizeOuter(0).tickPadding(4));
  const aB = g.append("g").attr("transform", `translate(0,${y0 + H})`)
    .call(d3.axisBottom(xS).tickValues(timeTicks).tickFormat(d => String(d)).tickSize(0).tickSizeOuter(0).tickPadding(10));
  [aL, aR, aB].forEach(a => {
    a.selectAll("path,line").attr("stroke", grid).attr("stroke-width", 1.2);
    a.selectAll("text").attr("fill", "#1a1a1a").style("font-size", "12px")
      .style("font-family", '"Liberation Sans", Arial, sans-serif');
  });

  const cid = "clip" + i;
  svg.append("clipPath").attr("id", cid).append("rect")
    .attr("x", x0).attr("y", y0 - 3).attr("width", W + 1).attr("height", H + 6);

  const plot = g.append("g").attr("clip-path", `url(#${cid})`);
  drawOrder.forEach(k => {
    const st = styles[k];
    const data = pn.series[k];
    const yS = st.axis === "l" ? yL : yR;
    const line = d3.line().x(d => xS(d[0])).y(d => yS(d[1]))
      .curve(st.axis === "l" ? d3.curveLinear : d3.curveMonotoneX);
    plot.append("path").datum(data).attr("d", line)
      .attr("fill", "none").attr("stroke", st.color).attr("stroke-width", st.w)
      .attr("stroke-opacity", st.op).attr("stroke-linejoin", "round")
      .attr("stroke-dasharray", st.dash);
  });

  g.append("text").attr("transform", `translate(${x0 + 14},${y0 + 239}) rotate(-90)`)
    .attr("text-anchor", "middle").style("font-size", "12px").text("planned vs executed error (rad)");
  g.append("text").attr("transform", `translate(${x0 + W - 17},${y0 + 49}) rotate(-90)`)
    .attr("text-anchor", "middle").style("font-size", "12px").text("joint value (rad)");
  g.append("text").attr("x", x0 + 244).attr("y", y0 + 333)
    .attr("text-anchor", "middle").style("font-size", "12px").text("time (s)");

  g.append("text").attr("x", tx).attr("y", y0 + 7.5).style("font-size", "14px").text("Right/Left");
  g.append("text").attr("x", tx).attr("y", y0 + 24).style("font-size", "14px").text("arms joint " + pn.joint);

  const lx = tx - 1;
  styles.forEach((st, k) => {
    const ly = y0 + 131.5 + k * 26;
    g.append("line").attr("x1", lx).attr("x2", lx + 50).attr("y1", ly).attr("y2", ly)
      .attr("stroke", st.color).attr("stroke-width", st.w).attr("stroke-opacity", st.op)
      .attr("stroke-dasharray", st.dash);
    g.append("text").attr("x", lx + 54).attr("y", ly + 4.5).style("font-size", "12px")
      .text(`${st.side}_J${pn.joint}_${st.kind}`);
  });
});
</script></body></html>
